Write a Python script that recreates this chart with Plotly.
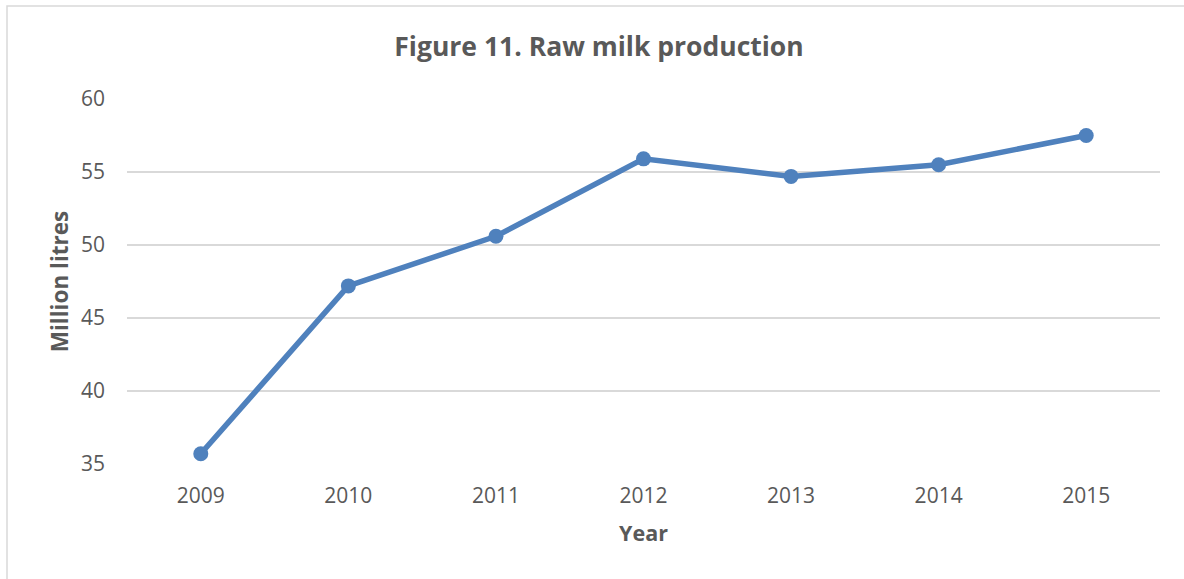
import plotly.graph_objects as go

years = ["2009", "2010", "2011", "2012", "2013", "2014", "2015"]
production = [35.7, 47.2, 50.6, 55.9, 54.7, 55.5, 57.5]
y_ticks = [35, 40, 45, 50, 55, 60]

FONT = "Open Sans"
GREY = "#595959"

W, H = 1184, 579
# plot area in pixels
PL, PR, PT, PB = 127, 1160, 99, 464

fig = go.Figure()
# chart-area frame (top and left edges visible, in a full-page overlay axis)
fig.add_trace(go.Scatter(
    x=[7, 7, W + 10], y=[-10, H - 6, H - 6], mode="lines",
    line=dict(color="#d9d9d9", width=1.5),
    xaxis="x2", yaxis="y2", hoverinfo="skip", showlegend=False,
))
fig.add_trace(go.Scatter(
    x=years, y=production, mode="lines+markers",
    line=dict(color="#4f81bd", width=5.5),
    marker=dict(color="#4f81bd", size=15),
    showlegend=False,
))

fig.update_layout(
    width=W, height=H,
    margin=dict(l=0, r=0, t=0, b=0, pad=0),
    paper_bgcolor="white", plot_bgcolor="rgba(0,0,0,0)",
    font=dict(family=FONT, color=GREY, size=21),
    title=dict(text="<b>Figure 11. Raw milk production</b>", x=599 / W, xanchor="center",
               y=1 - 47 / H, yanchor="middle", font=dict(size=26.5, color=GREY, family=FONT)),
    xaxis=dict(type="category", range=[-0.5, 6.5], showgrid=False, showline=False,
               domain=[PL / W, PR / W], automargin=False,
               ticks="", ticklabelstandoff=17,
               title=dict(text="<b>Year</b>", font=dict(size=21.5, color=GREY), standoff=17)),
    yaxis=dict(range=[35, 60], tickvals=y_ticks, showgrid=True, gridcolor="#d9d9d9",
               domain=[1 - PB / H, 1 - PT / H], automargin=False,
               gridwidth=1.5, zeroline=False, showline=False, ticks="", ticklabelstandoff=21,
               title=dict(text="<b>Million litres</b>", font=dict(size=22.5, color=GREY), standoff=6)),
    xaxis2=dict(domain=[0, 1], range=[0, W], visible=False, anchor="y2", fixedrange=True),
    yaxis2=dict(domain=[0, 1], range=[0, H], visible=False, anchor="x2", fixedrange=True),
)

fig.write_html("out.html")
